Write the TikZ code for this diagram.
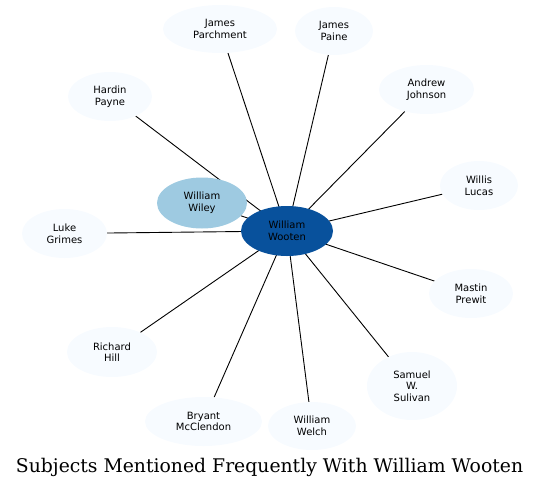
\documentclass[tikz,border=0pt]{standalone}
\usepackage{fontspec}
\usepackage{tikz}
\usetikzlibrary{shapes.geometric, backgrounds}
\newfontfamily\namefont{DejaVu Sans}
\newfontfamily\titlefont{DejaVu Serif}
\definecolor{outerfill}{HTML}{F7FBFF}
\definecolor{wileyfill}{HTML}{9ECAE1}
\definecolor{wootenfill}{HTML}{08519C}
\tikzset{
  person/.style={ellipse, fill=outerfill, inner sep=0pt, align=center,
    font=\namefont\fontsize{10}{11.6}\selectfont},
  link/.style={draw=black, line width=0.9pt}
}
\begin{document}
\begin{tikzpicture}[x=1pt, y=-1pt]
  \useasboundingbox (0,0) rectangle (540,488);
\node[person, minimum width=92pt, minimum height=50pt, fill=wootenfill] (wooten) at (287,231) {William\\Wooten};
\node[person, minimum width=90pt, minimum height=51pt, fill=wileyfill] (wiley) at (202,203) {William\\Wiley};
\node[person, minimum width=114pt, minimum height=48pt] (parchment) at (220,29) {James\\Parchment};
\node[person, minimum width=78pt, minimum height=48pt] (paine) at (334,31) {James\\Paine};
\node[person, minimum width=84pt, minimum height=49pt] (hardin) at (110,96.5) {Hardin\\Payne};
\node[person, minimum width=95pt, minimum height=49pt] (johnson) at (426.5,89.5) {Andrew\\Johnson};
\node[person, minimum width=78pt, minimum height=49pt] (lucas) at (479,185.5) {Willis\\Lucas};
\node[person, minimum width=85pt, minimum height=49pt] (grimes) at (64.5,233.5) {Luke\\Grimes};
\node[person, minimum width=84pt, minimum height=49pt] (prewit) at (471,293.5) {Mastin\\Prewit};
\node[person, minimum width=90pt, minimum height=50pt] (hill) at (112,352) {Richard\\Hill};
\node[person, minimum width=90pt, minimum height=68pt] (sulivan) at (412,386) {Samuel\\W.\\Sulivan};
\node[person, minimum width=117pt, minimum height=49pt] (mcclendon) at (203.5,421.5) {Bryant\\McClendon};
\node[person, minimum width=88pt, minimum height=48pt] (welch) at (312,426) {William\\Welch};
  \node[font=\titlefont\fontsize{18.8}{20}\selectfont] (title) at (269.5,467) {Subjects Mentioned Frequently With William Wooten};
\begin{scope}[on background layer]
  \foreach \other in {wiley, parchment, paine, hardin, johnson, lucas, grimes, prewit, hill, sulivan, mcclendon, welch}
    \path[link] (wooten.center) -- (\other);
\end{scope}
\end{tikzpicture}
\end{document}
